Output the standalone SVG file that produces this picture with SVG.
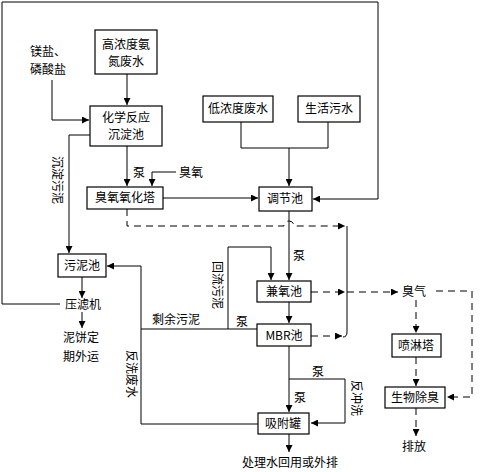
<svg xmlns="http://www.w3.org/2000/svg" width="480" height="472" viewBox="0 0 480 472">
<style>
.b{fill:#fff;stroke:#000;stroke-width:1.2}
.l{fill:none;stroke:#000;stroke-width:1}
.d{fill:none;stroke:#000;stroke-width:1;stroke-dasharray:7,5}
text{font-family:"Noto Sans CJK SC","Noto Sans",sans-serif;font-size:12px;fill:#000}
.c{text-anchor:middle}
</style>
<defs>
<marker id="a" viewBox="0 0 10 10" refX="10" refY="5" markerWidth="7" markerHeight="7" orient="auto" markerUnits="userSpaceOnUse"><path d="M0,0L10,5L0,10z" fill="#000"/></marker>
</defs>
<rect width="480" height="472" fill="#fff"/>
<g id="connectors">
<path class="l" d="M127,74V105" marker-end="url(#a)"/>
<path class="l" d="M52,80V120H89" marker-end="url(#a)"/>
<path class="l" d="M127,146V186" marker-end="url(#a)"/>
<path class="l" d="M176,172H152V186" marker-end="url(#a)"/>
<path class="l" d="M90,135H69V253" marker-end="url(#a)"/>
<path class="l" d="M241,122V148H328V122M289,148V186" marker-end="url(#a)"/>
<path class="l" d="M163,198H258" marker-end="url(#a)"/>
<path class="l" d="M60,304H2V2H378V199H313" marker-end="url(#a)"/>
<path class="l" d="M82,277V298" marker-end="url(#a)"/>
<path class="l" d="M82,312V328" marker-end="url(#a)"/>
<path class="d" d="M127,209V226H284A5,5 0 0 1 294,226H345" marker-end="url(#a)"/>
<path class="l" d="M347,226V332Q347,337 343,337"/>
<path class="l" d="M289,211V280" marker-end="url(#a)"/>
<path class="l" d="M228,329V247H271V280" marker-end="url(#a)"/>
<path class="l" d="M289,302V323" marker-end="url(#a)"/>
<path class="d" d="M311,292H345" marker-end="url(#a)"/>
<path class="d" d="M311,336H342" marker-end="url(#a)"/>
<path class="d" d="M347,292H398" marker-end="url(#a)"/>
<path class="l" d="M257,329H141"/>
<path class="l" d="M258,424H141V266H107" marker-end="url(#a)"/>
<path class="l" d="M289,346V412" marker-end="url(#a)"/>
<path class="l" d="M289,379H345V423H311" marker-end="url(#a)"/>
<path class="l" d="M289,434V452" marker-end="url(#a)"/>
<path class="d" d="M416,300V333" marker-end="url(#a)"/>
<path class="d" d="M416,357V386" marker-end="url(#a)"/>
<path class="d" d="M416,408V436" marker-end="url(#a)"/>
<path class="d" d="M436,291H472V397H447" marker-end="url(#a)"/>
</g>
<g id="n1"><rect class="b" x="95" y="30" width="62" height="44"/><text class="c" x="126" y="49">高浓度氨</text><text class="c" x="126" y="66">氮废水</text></g>
<g id="n2"><text class="c" x="48" y="56">镁盐、</text><text class="c" x="48" y="74">磷酸盐</text></g>
<g id="n3"><rect class="b" x="90" y="106" width="72" height="40"/><text class="c" x="126" y="122">化学反应</text><text class="c" x="126" y="139">沉淀池</text></g>
<g id="n4"><rect class="b" x="203" y="96" width="70" height="26"/><text class="c" x="238" y="113">低浓度废水</text></g>
<g id="n5"><rect class="b" x="298" y="96" width="62" height="26"/><text class="c" x="329" y="113">生活污水</text></g>
<g id="n6"><rect class="b" x="87" y="187" width="76" height="22"/><text class="c" x="125" y="202">臭氧氧化塔</text></g>
<g id="n7"><rect class="b" x="259" y="187" width="53" height="24"/><text class="c" x="285" y="203">调节池</text></g>
<g id="n8"><rect class="b" x="58" y="254" width="48" height="23"/><text class="c" x="82" y="270">污泥池</text></g>
<g id="n9"><text class="c" x="83" y="309">压滤机</text></g>
<g id="n10"><text class="c" x="81" y="342">泥饼定</text><text class="c" x="81" y="361">期外运</text></g>
<g id="n11"><rect class="b" x="257" y="281" width="54" height="21"/><text class="c" x="284" y="296">兼氧池</text></g>
<g id="n12"><rect class="b" x="257" y="324" width="54" height="22"/><text class="c" x="284" y="340">MBR池</text></g>
<g id="n13"><rect class="b" x="258" y="413" width="51" height="21"/><text class="c" x="283" y="428">吸附罐</text></g>
<g id="n14"><text class="c" x="290" y="467">处理水回用或外排</text></g>
<g id="n15"><text class="c" x="414" y="296">臭气</text></g>
<g id="n16"><rect class="b" x="392" y="334" width="49" height="23"/><text class="c" x="416" y="350">喷淋塔</text></g>
<g id="n17"><rect class="b" x="385" y="387" width="60" height="21"/><text class="c" x="415" y="402">生物除臭</text></g>
<g id="n18"><text class="c" x="414" y="451">排放</text></g>
<g id="labels">
<text x="133" y="177">泵</text>
<text x="179" y="177">臭氧</text>
<text x="293" y="260">泵</text>
<text x="236" y="326">泵</text>
<text x="152" y="324">剩余污泥</text>
<text x="312" y="376">泵</text>
<text x="294" y="402">泵</text>
<text class="c" transform="translate(57,180) rotate(90)" x="0" y="4">沉淀污泥</text>
<text class="c" transform="translate(217,285) rotate(90)" x="0" y="4">回流污泥</text>
<text class="c" transform="translate(131,374) rotate(90)" x="0" y="4">反洗废水</text>
<text class="c" transform="translate(356,398) rotate(90)" x="0" y="4">反冲洗</text>
</g>
</svg>
